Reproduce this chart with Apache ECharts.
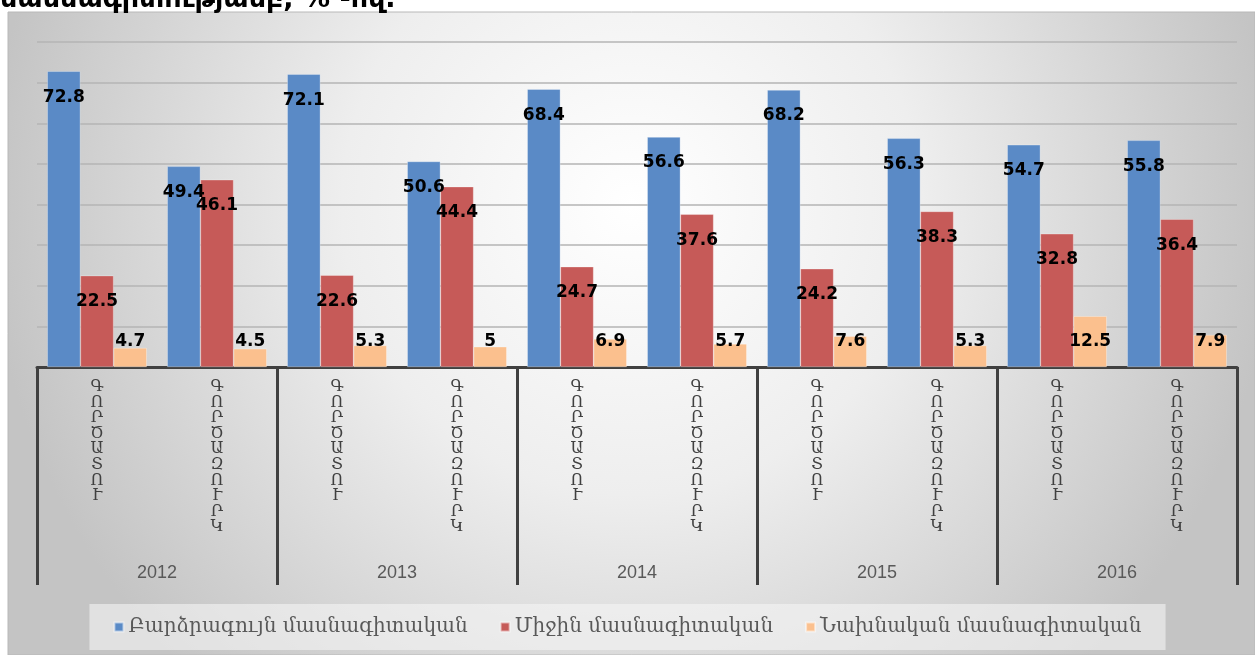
<!DOCTYPE html>
<html><head><meta charset="utf-8">
<script src="https://cdn.jsdelivr.net/npm/echarts@6/dist/echarts.min.js"></script>
<style>html,body{margin:0;padding:0;background:#fff}#c{width:1255px;height:655px}</style>
</head><body><div id="c"></div>
<script>
// ---- data ----
var years = ['2012', '2013', '2014', '2015', '2016'];
var groups = ['ԳՈՐԾԱՏՈՒ', 'ԳՈՐԾԱԶՈՒՐԿ'];
var seriesNames = ['Բարձրագույն մասնագիտական', 'Միջին մասնագիտական', 'Նախնական մասնագիտական'];
var higher  = [72.8, 49.4, 72.1, 50.6, 68.4, 56.6, 68.2, 56.3, 54.7, 55.8];
var middle  = [22.5, 46.1, 22.6, 44.4, 24.7, 37.6, 24.2, 38.3, 32.8, 36.4];
var initial = [4.7, 4.5, 5.3, 5, 6.9, 5.7, 7.6, 5.3, 12.5, 7.9];
var titleText = 'մասնագիտությամբ, % -ով.';

var categories = [];
years.forEach(function (y) { groups.forEach(function (g) { categories.push(g); }); });

var colors = ['#5a8ac6', '#c65a58', '#fbc08e'];
var chart = echarts.init(document.getElementById('c'));

function labelLayout(p) {
  var r = p.rect;
  return {
    x: r.x + r.width / 2,
    y: Math.min(r.y + 26, r.y + r.height - 25),
    align: 'center',
    verticalAlign: 'middle'
  };
}
function mkSeries(name, data, color) {
  return {
    name: name, type: 'bar', data: data, barGap: 0, barCategoryGap: '17%',
    itemStyle: { color: color, borderColor: 'rgba(255,255,255,0.5)', borderWidth: 0.6 },
    label: { show: true, position: 'inside', color: '#000', fontFamily: 'DejaVu Sans', fontWeight: 'bold', fontSize: 17 },
    labelLayout: labelLayout
  };
}

chart.setOption({
  animation: false,
  color: colors,
  graphic: [
    { type: 'rect', z: -10, shape: { x: 8, y: 12, width: 1247, height: 643 },
      style: { fill: new echarts.graphic.RadialGradient(0.5, 0.3, 1.0, [
        { offset: 0, color: '#ffffff' }, { offset: 0.45, color: '#eeeeee' }, { offset: 1, color: '#c4c4c4' }]),
        stroke: '#b8b8b8', lineWidth: 1 } },
    { type: 'text', left: 0, top: -14, z: 10,
      style: { text: titleText, font: 'bold 27px "DejaVu Sans"', fill: '#000' } }
  ],
  grid: { left: 37, right: 18, top: 42, bottom: 288 },
  legend: {
    data: seriesNames, bottom: 5, left: 'center',
    icon: 'rect', itemWidth: 9, itemHeight: 9, itemGap: 32,
    backgroundColor: 'rgba(245,245,245,0.6)', padding: [13, 24],
    textStyle: { fontFamily: 'DejaVu Serif', fontSize: 20, color: '#595959' }
  },
  xAxis: [
    { type: 'category', data: categories, position: 'bottom',
      axisLine: { lineStyle: { color: '#404040', width: 3 } },
      axisTick: { show: false },
      axisLabel: { interval: 0, margin: 12, color: '#404040', fontFamily: 'DejaVu Serif', fontSize: 16, lineHeight: 15.6,
        verticalAlign: 'top',
        formatter: function (v) { return v.split('').join('\n'); } } },
    { type: 'category', data: years, position: 'bottom',
      axisLine: { show: false },
      axisTick: { show: true, length: 218, lineStyle: { color: '#404040', width: 3 } },
      axisLabel: { margin: 197, color: '#595959', fontFamily: 'Liberation Sans', fontSize: 18 } }
  ],
  yAxis: { type: 'value', min: 0, max: 80, interval: 10,
    axisLabel: { show: false }, axisLine: { show: false }, axisTick: { show: false },
    splitLine: { lineStyle: { color: '#b4b4b4', width: 1.5 } } },
  series: [
    mkSeries(seriesNames[0], higher, colors[0]),
    mkSeries(seriesNames[1], middle, colors[1]),
    mkSeries(seriesNames[2], initial, colors[2])
  ]
});
</script></body></html>
